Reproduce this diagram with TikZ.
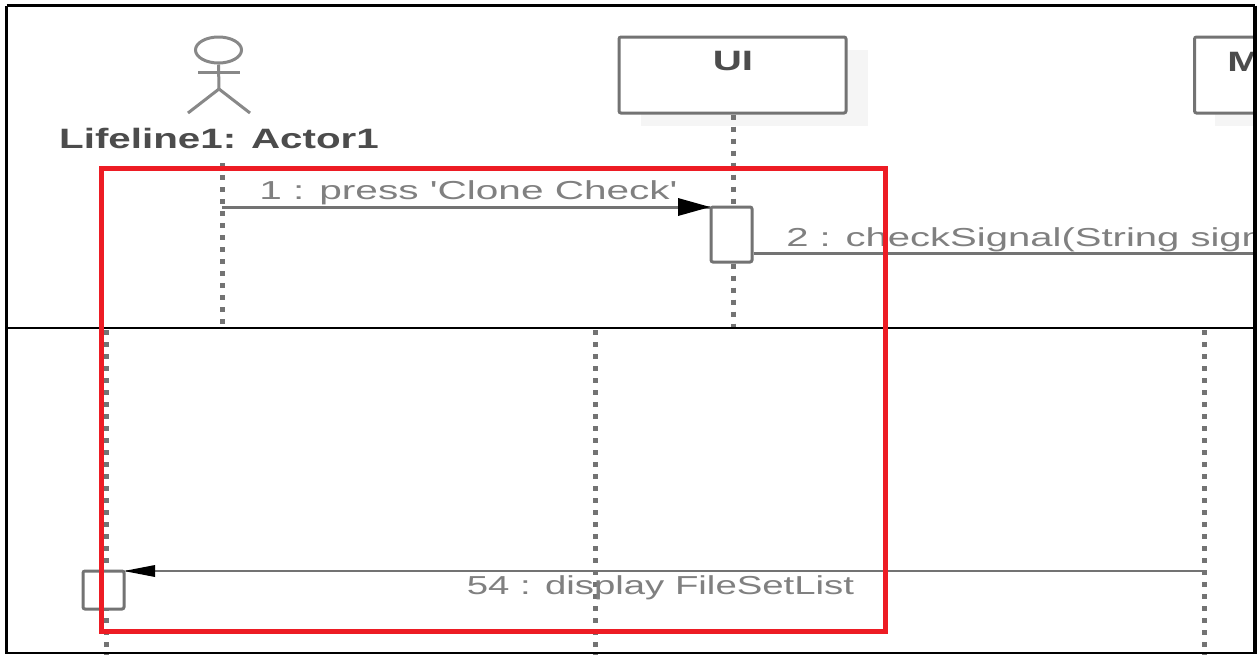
\documentclass[tikz,border=0pt]{standalone}
\usepackage{fontspec}
\setmainfont{Liberation Sans}
\usetikzlibrary{arrows.meta,shapes.geometric}
\definecolor{redframe}{HTML}{ED1C24}
\definecolor{linegray}{gray}{0.45}
\definecolor{textgray}{gray}{0.5}
\definecolor{shadowgray}{gray}{0.96}
\tikzset{
  lifeline/.style={draw=linegray,line width=5pt,dash pattern=on 5pt off 7pt},
  objbox/.style={draw=linegray,line width=3pt,rounded corners=2pt,fill=white},
  shadowbox/.style={fill=shadowgray,draw=none},
  actbox/.style={draw=linegray,line width=3pt,rounded corners=2pt,fill=white,inner sep=0pt,minimum width=41pt},
  msgline/.style={draw=linegray,line width=3pt},
  thinmsg/.style={draw=linegray,line width=2pt},
  tiphead/.style={fill=black,draw=none},
  msgtext/.style={text=textgray,font=\fontsize{26}{30}\selectfont,inner sep=0pt,transform shape},
  boldtext/.style={text=black!70,font=\fontsize{28}{32}\selectfont\bfseries,inner sep=0pt,transform shape,xscale=1.44},
  actorline/.style={draw=linegray!85,line width=3pt},
}
\begin{document}
\begin{tikzpicture}[x=1pt,y=-1pt]
\useasboundingbox (0,0) rectangle (1258,654);
\fill[white] (0,0) rectangle (1258,654);
\begin{scope}
\clip (7,6) rectangle (1253,328);
% shadows
\fill[shadowbox] (641,50) rectangle (868,126);
\fill[shadowbox] (1215,50) rectangle (1260,126);
% object boxes
\node[objbox,minimum width=227pt,minimum height=76pt,inner sep=0pt] (ui) at (732.5,75) {};
\node[objbox,minimum width=120pt,minimum height=76pt,inner sep=0pt,anchor=west] (mbox) at (1193,75) {};
\node[boldtext] (uilabel) at (733,61.5) {UI};
\node[boldtext,anchor=west] (mlabel) at (1227,61.5) {M};
% actor
\node[draw=linegray!85,line width=3pt,ellipse,minimum width=46pt,minimum height=26pt,inner sep=0pt] (head) at (218.5,50) {};
\coordinate (hip) at (219,89);
\coordinate (armL) at (198,72);
\coordinate (armR) at (240,72);
\coordinate (legL) at (188,113);
\coordinate (legR) at (250,113);
\draw[actorline] (head.south) -- (hip);
\draw[actorline] (armL) -- (armR);
\draw[actorline] (legL) -- (hip) -- (legR);
\node[boldtext] (actorlabel) at (219,138) {Lifeline1: Actor1};
% upper lifelines
\coordinate (l1top) at (222,163);
\coordinate (l1bot) at (222,328);
\coordinate (l2bot) at (733,328);
\draw[lifeline] (l1top) -- (l1bot);
\node[actbox,minimum height=55pt] (act1) at (731.5,234.5) {};
\draw[lifeline] (ui.south -| l2bot) -- (act1.north -| l2bot);
\draw[lifeline] (act1.south -| l2bot) -- (l2bot);
% messages
\coordinate (m1start) at (222,207);
\draw[msgline] (m1start) -- (m1start -| act1.west);
\fill[tiphead] (710,207) -- (678,198) -- (678,216) -- cycle;
\node[msgtext,xscale=1.56,anchor=west] (m1label) at (259,193) {1 : press \textquotesingle Clone Check\textquotesingle};
\coordinate (m2end) at (1260,253);
\draw[msgline] (act1.east |- m2end) -- (m2end);
\node[msgtext,xscale=1.54,anchor=west] (m2label) at (786,240) {2 : checkSignal(String sign};
\end{scope}
\begin{scope}
\clip (7,328) rectangle (1253,654);
\coordinate (a) at (106,330);
\coordinate (ab) at (106,660);
\coordinate (b) at (595,330);
\coordinate (bb) at (595,660);
\coordinate (c) at (1204,330);
\coordinate (cb) at (1204,660);
\draw[lifeline] (a) -- (ab);
\draw[lifeline] (b) -- (bb);
\draw[lifeline] (c) -- (cb);
\node[actbox,minimum height=38pt] (act2) at (103.5,590) {};
\coordinate (m54) at (1204,571);
\draw[thinmsg] (m54) -- (m54 -| act2.east);
\fill[tiphead] (124,571) -- (155,565) -- (155,577) -- cycle;
\node[msgtext,xscale=1.475] (m54label) at (660.5,588) {54 : display FileSetList};
\end{scope}
% divider and frames
\coordinate (divL) at (7,328);
\coordinate (divR) at (1255,328);
\draw[black,line width=2.5pt] (divL) -- (divR);
\draw[redframe,line width=5pt] (101.5,168.5) rectangle (885.5,631);
\draw[black,line width=3.5pt] (6.5,5.5) -- (1255,5.5);
\draw[black,line width=3.5pt] (6.5,5.5) -- (6.5,654);
\draw[black,line width=3.5pt] (1255,5.5) -- (1255,654);
\draw[black,line width=1.5pt] (6.5,653) -- (1255,653);
\end{tikzpicture}
\end{document}
